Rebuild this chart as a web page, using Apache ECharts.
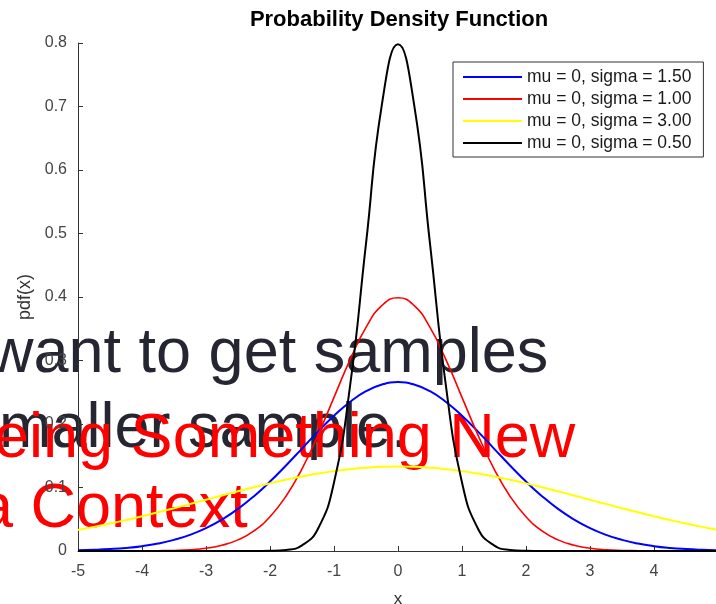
<!DOCTYPE html>
<html><head><meta charset="utf-8">
<script src="https://cdn.jsdelivr.net/npm/echarts@6/dist/echarts.min.js"></script>
<style>html,body{margin:0;padding:0;background:#fff}#c{width:716px;height:604px}</style>
</head><body><div id="c"></div>
<script>
const xs = [-5,-4.75,-4.5,-4.25,-4,-3.75,-3.5,-3.25,-3,-2.75,-2.5,-2.25,-2,-1.75,-1.5,-1.25,-1,-0.75,-0.5,-0.25,0,0.25,0.5,0.75,1,1.25,1.5,1.75,2,2.25,2.5,2.75,3,3.25,3.5,3.75,4,4.25,4.5,4.75,5];
const sigma150 = [0.0010,0.0018,0.0030,0.0048,0.0076,0.0117,0.0175,0.0254,0.0360,0.0496,0.0663,0.0864,0.1093,0.1347,0.1613,0.1880,0.2130,0.2347,0.2516,0.2623,0.2660,0.2623,0.2516,0.2347,0.2130,0.1880,0.1613,0.1347,0.1093,0.0864,0.0663,0.0496,0.0360,0.0254,0.0175,0.0117,0.0076,0.0048,0.0030,0.0018,0.0010];
const sigma100 = [0,0,0,0,0.0001,0.0004,0.0009,0.0020,0.0044,0.0091,0.0175,0.0317,0.0540,0.0863,0.1295,0.1826,0.2420,0.3011,0.3521,0.3867,0.3989,0.3867,0.3521,0.3011,0.2420,0.1826,0.1295,0.0863,0.0540,0.0317,0.0175,0.0091,0.0044,0.0020,0.0009,0.0004,0.0001,0,0,0,0];
const sigma300 = [0.0332,0.0380,0.0432,0.0488,0.0547,0.0609,0.0673,0.0740,0.0807,0.0874,0.0940,0.1004,0.1065,0.1122,0.1174,0.1219,0.1258,0.1289,0.1311,0.1325,0.1330,0.1325,0.1311,0.1289,0.1258,0.1219,0.1174,0.1122,0.1065,0.1004,0.0940,0.0874,0.0807,0.0740,0.0673,0.0609,0.0547,0.0488,0.0432,0.0380,0.0332];
const sigma050 = [0,0,0,0,0,0,0,0,0,0,0,0,0.0003,0.0017,0.0089,0.0351,0.1080,0.2591,0.4839,0.7041,0.7979,0.7041,0.4839,0.2591,0.1080,0.0351,0.0089,0.0017,0.0003,0,0,0,0,0,0,0,0,0,0,0,0];
const seriesNames = ['mu = 0, sigma = 1.50','mu = 0, sigma = 1.00','mu = 0, sigma = 3.00','mu = 0, sigma = 0.50'];
const seriesColors = ['#0000ff','#ff0000','#ffff00','#000000'];
const seriesValues = [sigma150, sigma100, sigma300, sigma050];
const overlayLines = ['want to get samples','maller sample.','eing Something New','a Context'];

const FONT = '"Liberation Sans", Arial, sans-serif';
const chart = echarts.init(document.getElementById('c'));
const series = seriesValues.map((vals, i) => ({
  name: seriesNames[i],
  type: 'line',
  data: xs.map((x, j) => [x, vals[j]]),
  smooth: true,
  showSymbol: false,
  lineStyle: {color: seriesColors[i], width: i === 1 ? 1.6 : 2},
  itemStyle: {color: seriesColors[i]},
  z: 2 + i,
  animation: false
}));
chart.setOption({
  animation: false,
  backgroundColor: '#fff',
  title: {text: 'Probability Density Function', left: 399, top: 9, padding: 0, textAlign: 'center',
    textStyle: {fontFamily: FONT, fontSize: 22, fontWeight: 'bold', color: '#000'}},
  grid: {left: 78, top: 43, width: 640, height: 508, outerBoundsMode: 'none', containLabel: false},
  legend: {
    orient: 'vertical', left: 453, top: 62,
    padding: [6, 12, 5, 10], itemGap: 4,
    itemWidth: 59, itemHeight: 2, icon: 'rect',
    borderColor: '#333', borderWidth: 1, backgroundColor: '#fff',
    textStyle: {fontFamily: FONT, fontSize: 17.5, color: '#1a1a1a', lineHeight: 18},
    data: seriesNames
  },
  xAxis: {type: 'value', min: -5, max: 5, interval: 1,
    name: 'x', nameLocation: 'middle', nameGap: 40,
    nameTextStyle: {fontFamily: FONT, fontSize: 17, color: '#333'},
    axisLine: {lineStyle: {color: '#333'}},
    axisTick: {inside: true, length: 5, lineStyle: {color: '#333'}},
    axisLabel: {fontFamily: FONT, fontSize: 16, color: '#444', margin: 13, showMaxLabel: false},
    splitLine: {show: false}},
  yAxis: {type: 'value', min: 0, max: 0.8, interval: 0.1,
    name: 'pdf(x)', nameLocation: 'middle', nameGap: 44,
    nameTextStyle: {fontFamily: FONT, fontSize: 18, color: '#333'},
    axisLine: {show: true, onZero: false, lineStyle: {color: '#333'}},
    axisTick: {show: true, inside: true, length: 5, lineStyle: {color: '#333'}},
    axisLabel: {fontFamily: FONT, fontSize: 16, color: '#444', margin: 11},
    splitLine: {show: false}},
  series: series,
  graphic: [
    {type: 'text', left: -12, top: 323, z: -1, style: {text: overlayLines[0], font: '63px ' + FONT, fill: '#262632'}},
    {type: 'text', left: -1, top: 398, z: -1, style: {text: overlayLines[1], font: '63px ' + FONT, fill: '#262632'}},
    {type: 'text', left: -6, top: 408, z: -1, style: {text: overlayLines[2], font: '63px ' + FONT, fill: '#ff0000'}},
    {type: 'text', left: -22, top: 478, z: -1, style: {text: overlayLines[3], font: '63px ' + FONT, fill: '#ff0000'}}
  ]
});
</script></body></html>
